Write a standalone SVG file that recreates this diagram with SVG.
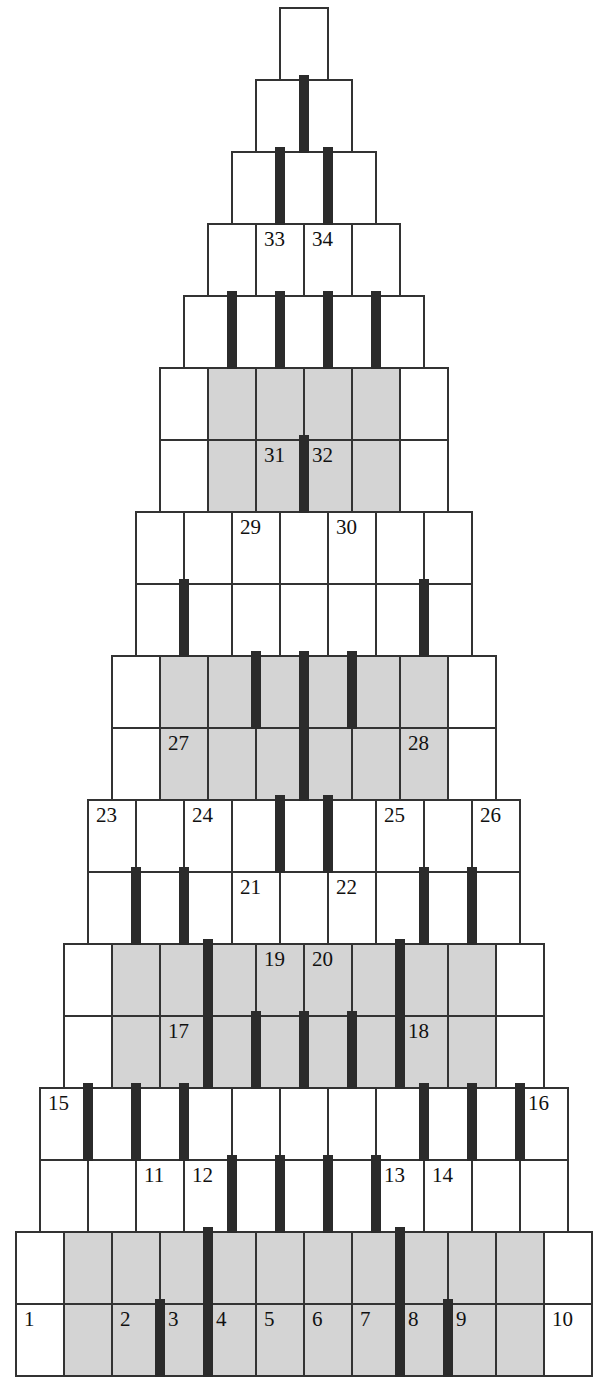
<svg xmlns="http://www.w3.org/2000/svg" width="600" height="1378" viewBox="0 0 600 1378">
<style>
.bg{fill:#ffffff}
.sh{fill:#d4d4d4;stroke:none}
.cell{fill:none;stroke:#333333;stroke-width:2}
.grid{fill:none;stroke:#333333;stroke-width:2}
.bar{fill:#2b2b2b}
.lbl{font-family:"Liberation Serif","Times New Roman",serif;font-size:21px;fill:#111111}
</style>
<rect class="bg" x="0" y="0" width="600" height="1378"/>
<g id="row0"><rect class="cell" x="280" y="8" width="48" height="72"/></g>
<g id="row1"><rect class="cell" x="256" y="80" width="96" height="72"/><path class="grid" d="M304 80V152"/></g>
<g id="row2"><rect class="cell" x="232" y="152" width="144" height="72"/><path class="grid" d="M280 152V224M328 152V224"/></g>
<g id="row3"><rect class="cell" x="208" y="224" width="192" height="72"/><path class="grid" d="M256 224V296M304 224V296M352 224V296"/>
<text class="lbl" x="264" y="246">33</text><text class="lbl" x="312" y="246">34</text></g>
<g id="row4"><rect class="cell" x="184" y="296" width="240" height="72"/><path class="grid" d="M232 296V368M280 296V368M328 296V368M376 296V368"/></g>
<g id="row5"><rect class="sh" x="208" y="368" width="192" height="72"/><rect class="cell" x="160" y="368" width="288" height="72"/><path class="grid" d="M208 368V440M256 368V440M304 368V440M352 368V440M400 368V440"/></g>
<g id="row6"><rect class="sh" x="208" y="440" width="192" height="72"/><rect class="cell" x="160" y="440" width="288" height="72"/><path class="grid" d="M208 440V512M256 440V512M304 440V512M352 440V512M400 440V512"/>
<text class="lbl" x="264" y="462">31</text><text class="lbl" x="312" y="462">32</text></g>
<g id="row7"><rect class="cell" x="136" y="512" width="336" height="72"/><path class="grid" d="M184 512V584M232 512V584M280 512V584M328 512V584M376 512V584M424 512V584"/>
<text class="lbl" x="240" y="534">29</text><text class="lbl" x="336" y="534">30</text></g>
<g id="row8"><rect class="cell" x="136" y="584" width="336" height="72"/><path class="grid" d="M184 584V656M232 584V656M280 584V656M328 584V656M376 584V656M424 584V656"/></g>
<g id="row9"><rect class="sh" x="160" y="656" width="288" height="72"/><rect class="cell" x="112" y="656" width="384" height="72"/><path class="grid" d="M160 656V728M208 656V728M256 656V728M304 656V728M352 656V728M400 656V728M448 656V728"/></g>
<g id="row10"><rect class="sh" x="160" y="728" width="288" height="72"/><rect class="cell" x="112" y="728" width="384" height="72"/><path class="grid" d="M160 728V800M208 728V800M256 728V800M304 728V800M352 728V800M400 728V800M448 728V800"/>
<text class="lbl" x="168" y="750">27</text><text class="lbl" x="408" y="750">28</text></g>
<g id="row11"><rect class="cell" x="88" y="800" width="432" height="72"/><path class="grid" d="M136 800V872M184 800V872M232 800V872M280 800V872M328 800V872M376 800V872M424 800V872M472 800V872"/>
<text class="lbl" x="96" y="822">23</text><text class="lbl" x="192" y="822">24</text><text class="lbl" x="384" y="822">25</text><text class="lbl" x="480" y="822">26</text></g>
<g id="row12"><rect class="cell" x="88" y="872" width="432" height="72"/><path class="grid" d="M136 872V944M184 872V944M232 872V944M280 872V944M328 872V944M376 872V944M424 872V944M472 872V944"/>
<text class="lbl" x="240" y="894">21</text><text class="lbl" x="336" y="894">22</text></g>
<g id="row13"><rect class="sh" x="112" y="944" width="384" height="72"/><rect class="cell" x="64" y="944" width="480" height="72"/><path class="grid" d="M112 944V1016M160 944V1016M208 944V1016M256 944V1016M304 944V1016M352 944V1016M400 944V1016M448 944V1016M496 944V1016"/>
<text class="lbl" x="264" y="966">19</text><text class="lbl" x="312" y="966">20</text></g>
<g id="row14"><rect class="sh" x="112" y="1016" width="384" height="72"/><rect class="cell" x="64" y="1016" width="480" height="72"/><path class="grid" d="M112 1016V1088M160 1016V1088M208 1016V1088M256 1016V1088M304 1016V1088M352 1016V1088M400 1016V1088M448 1016V1088M496 1016V1088"/>
<text class="lbl" x="168" y="1038">17</text><text class="lbl" x="408" y="1038">18</text></g>
<g id="row15"><rect class="cell" x="40" y="1088" width="528" height="72"/><path class="grid" d="M88 1088V1160M136 1088V1160M184 1088V1160M232 1088V1160M280 1088V1160M328 1088V1160M376 1088V1160M424 1088V1160M472 1088V1160M520 1088V1160"/>
<text class="lbl" x="48" y="1110">15</text><text class="lbl" x="528" y="1110">16</text></g>
<g id="row16"><rect class="cell" x="40" y="1160" width="528" height="72"/><path class="grid" d="M88 1160V1232M136 1160V1232M184 1160V1232M232 1160V1232M280 1160V1232M328 1160V1232M376 1160V1232M424 1160V1232M472 1160V1232M520 1160V1232"/>
<text class="lbl" x="144" y="1182">11</text><text class="lbl" x="192" y="1182">12</text><text class="lbl" x="384" y="1182">13</text><text class="lbl" x="432" y="1182">14</text></g>
<g id="row17"><rect class="sh" x="64" y="1232" width="480" height="72"/><rect class="cell" x="16" y="1232" width="576" height="72"/><path class="grid" d="M64 1232V1304M112 1232V1304M160 1232V1304M208 1232V1304M256 1232V1304M304 1232V1304M352 1232V1304M400 1232V1304M448 1232V1304M496 1232V1304M544 1232V1304"/></g>
<g id="row18"><rect class="sh" x="64" y="1304" width="480" height="72"/><rect class="cell" x="16" y="1304" width="576" height="72"/><path class="grid" d="M64 1304V1376M112 1304V1376M160 1304V1376M208 1304V1376M256 1304V1376M304 1304V1376M352 1304V1376M400 1304V1376M448 1304V1376M496 1304V1376M544 1304V1376"/>
<text class="lbl" x="24" y="1326">1</text><text class="lbl" x="120" y="1326">2</text><text class="lbl" x="168" y="1326">3</text><text class="lbl" x="216" y="1326">4</text><text class="lbl" x="264" y="1326">5</text><text class="lbl" x="312" y="1326">6</text><text class="lbl" x="360" y="1326">7</text><text class="lbl" x="408" y="1326">8</text><text class="lbl" x="456" y="1326">9</text><text class="lbl" x="552" y="1326">10</text></g>
<g id="bars">
<rect class="bar" x="299" y="75" width="10" height="78"/>
<rect class="bar" x="275" y="147" width="10" height="78"/>
<rect class="bar" x="323" y="147" width="10" height="78"/>
<rect class="bar" x="227" y="291" width="10" height="78"/>
<rect class="bar" x="275" y="291" width="10" height="78"/>
<rect class="bar" x="323" y="291" width="10" height="78"/>
<rect class="bar" x="371" y="291" width="10" height="78"/>
<rect class="bar" x="299" y="435" width="10" height="78"/>
<rect class="bar" x="179" y="579" width="10" height="78"/>
<rect class="bar" x="419" y="579" width="10" height="78"/>
<rect class="bar" x="251" y="651" width="10" height="78"/>
<rect class="bar" x="347" y="651" width="10" height="78"/>
<rect class="bar" x="299" y="651" width="10" height="150"/>
<rect class="bar" x="275" y="795" width="10" height="78"/>
<rect class="bar" x="323" y="795" width="10" height="78"/>
<rect class="bar" x="131" y="867" width="10" height="78"/>
<rect class="bar" x="179" y="867" width="10" height="78"/>
<rect class="bar" x="419" y="867" width="10" height="78"/>
<rect class="bar" x="467" y="867" width="10" height="78"/>
<rect class="bar" x="203" y="939" width="10" height="150"/>
<rect class="bar" x="395" y="939" width="10" height="150"/>
<rect class="bar" x="251" y="1011" width="10" height="78"/>
<rect class="bar" x="299" y="1011" width="10" height="78"/>
<rect class="bar" x="347" y="1011" width="10" height="78"/>
<rect class="bar" x="83" y="1083" width="10" height="78"/>
<rect class="bar" x="131" y="1083" width="10" height="78"/>
<rect class="bar" x="179" y="1083" width="10" height="78"/>
<rect class="bar" x="419" y="1083" width="10" height="78"/>
<rect class="bar" x="467" y="1083" width="10" height="78"/>
<rect class="bar" x="515" y="1083" width="10" height="78"/>
<rect class="bar" x="227" y="1155" width="10" height="78"/>
<rect class="bar" x="275" y="1155" width="10" height="78"/>
<rect class="bar" x="323" y="1155" width="10" height="78"/>
<rect class="bar" x="371" y="1155" width="10" height="78"/>
<rect class="bar" x="203" y="1227" width="10" height="150"/>
<rect class="bar" x="395" y="1227" width="10" height="150"/>
<rect class="bar" x="155" y="1299" width="10" height="78"/>
<rect class="bar" x="443" y="1299" width="10" height="78"/>
</g>
</svg>
